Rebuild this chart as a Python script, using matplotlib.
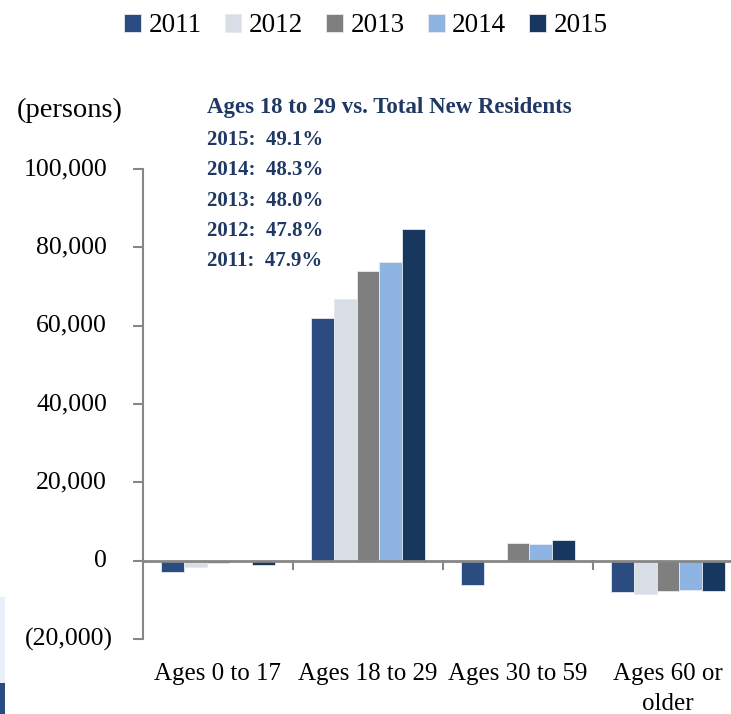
import matplotlib
matplotlib.use("Agg")
import matplotlib.pyplot as plt
from matplotlib.patches import Rectangle
from matplotlib.transforms import blended_transform_factory
import numpy as np

plt.rcParams['font.family'] = ['Liberation Serif', 'DejaVu Serif']

categories = ["Ages 0 to 17", "Ages 18 to 29", "Ages 30 to 59", "Ages 60 or\nolder"]
years = ["2011", "2012", "2013", "2014", "2015"]
values = {
    "2011": [-3000, 61900, -6100, -8000],
    "2012": [-1700, 66900, 0, -8600],
    "2013": [-600, 74000, 4500, -7800],
    "2014": [0, 76300, 4200, -7500],
    "2015": [-1000, 84700, 5400, -7700],
}
colors = ["#2B4C80", "#D9DEE6", "#7F7F7F", "#8EB4E3", "#17375E"]
share_lines = ["2015:  49.1%", "2014:  48.3%", "2013:  48.0%", "2012:  47.8%", "2011:  47.9%"]
yticks = [-20000, 0, 20000, 40000, 60000, 80000, 100000]
ytick_labels = ["(20,000)", "0", "20,000", "40,000", "60,000", "80,000", "100,000"]

W, H = 731, 714
fig = plt.figure(figsize=(W / 100, H / 100), dpi=100)

# axes box in pixel terms: left 143, right 743, top 169 (100k), bottom 639 (-20k)
left, right, top, bottom = 143, 743, 169, 639
ax = fig.add_axes([left / W, 1 - bottom / H, (right - left) / W, (bottom - top) / H])

axis_grey = "#868686"
x = np.arange(len(categories))
bw = 0.1533
for i, yr in enumerate(years):
    ax.bar(x + (i - 2) * bw, values[yr], width=bw, color=colors[i],
           edgecolor="#E6EAF0", linewidth=0.6, label=yr, zorder=2)

ax.set_xlim(-0.5, 3.5)
ax.set_ylim(-20000, 100000)

for s in ["top", "right", "bottom"]:
    ax.spines[s].set_visible(False)
ax.spines["left"].set_color(axis_grey)
ax.spines["left"].set_linewidth(1.5)
ax.axhline(0, color=axis_grey, linewidth=2.0, zorder=3)

# y ticks; labels use accounting alignment (positives leave room for ")")
ax.set_yticks(yticks)
ax.set_yticklabels([])
ax.tick_params(axis="y", direction="out", length=7, width=1.5, color=axis_grey)
ytrans = blended_transform_factory(fig.transFigure, ax.transData)
for v, lab in zip(yticks, ytick_labels):
    xr = 113 if lab.startswith("(") else 107
    fig.text(xr / W, v, lab, transform=ytrans, ha="right", va="center", fontsize=18.5)

# category separators hanging from the zero line
ax.set_xticks([])
for b in [0.5, 1.5, 2.5, 3.5]:
    ax.plot([b, b], [0, -2200], color=axis_grey, linewidth=1.5, clip_on=False, zorder=3)

for i, c in enumerate(categories):
    ax.annotate(c, xy=(i, -20000), xytext=(0, -17), textcoords="offset points",
                ha="center", va="top", fontsize=18, linespacing=1.5,
                annotation_clip=False)

fig.text(17 / W, 1 - 110 / H, "(persons)", fontsize=20.5, ha="left", va="center")

navy = "#1F3864"
fig.text(207 / W, 1 - 107 / H, "Ages 18 to 29 vs. Total New Residents",
         fontsize=16.5, fontweight="bold", color=navy, ha="left", va="center")
for k, line in enumerate(share_lines):
    fig.text(207 / W, 1 - (140 + k * 30.3) / H, line, fontsize=15,
             fontweight="bold", color=navy, ha="left", va="center")

leg = fig.legend(loc="center", bbox_to_anchor=(366 / W, 1 - 26 / H), ncol=5,
                 frameon=False, fontsize=19.5, handlelength=0.62, handleheight=0.62,
                 handletextpad=0.28, columnspacing=0.85, borderaxespad=0)

# page fragments on the left margin
fig.patches.append(Rectangle((0, 1 - 683 / H), 5 / W, 86 / H, transform=fig.transFigure,
                             facecolor="#E9EFF8", edgecolor="none"))
fig.patches.append(Rectangle((0, 0), 5 / W, 31 / H, transform=fig.transFigure,
                             facecolor="#2B4C80", edgecolor="none"))

fig.savefig("out.png", dpi=100)
